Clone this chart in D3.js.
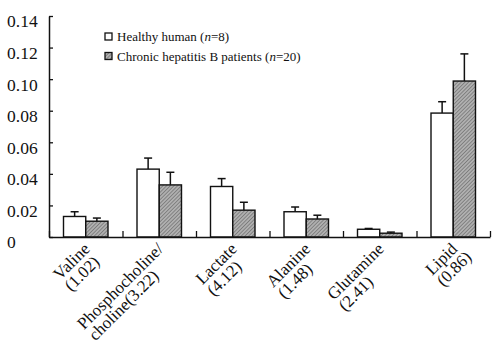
<!DOCTYPE html>
<html>
<head>
<meta charset="utf-8">
<script src="https://cdn.jsdelivr.net/npm/d3@7"></script>
<style>
  body { margin: 0; background: #fff; }
  svg text { font-family: "Liberation Serif", "Times New Roman", Times, "DejaVu Serif", serif; fill: #111; }
</style>
</head>
<body>
<div id="chart"></div>
<script>
// datos
const metabolites = ["Valine", "Phosphocholine", "Lactate", "Alanine", "Glutamine", "Lipid"]
const labelLines = [["Valine", "(1.02)"], ["Phosphocholine/", "choline(3.22)"], ["Lactate", "(4.12)"],
                    ["Alanine", "(1.48)"], ["Glutamine", "(2.41)"], ["Lipid", "(0.86)"]]
const series = ["Healthy", "HBV"]
const healthyMean = [0.013, 0.043, 0.032, 0.016, 0.0049, 0.0785]
const healthyErr  = [0.003, 0.007, 0.005, 0.003, 0.0005, 0.0072]
const hbvMean     = [0.010, 0.033, 0.017, 0.0114, 0.0024, 0.0988]
const hbvErr      = [0.002, 0.008, 0.005, 0.0024, 0.0007, 0.0172]
const yTicks = [0, 0.02, 0.04, 0.06, 0.08, 0.10, 0.12, 0.14]

const width = 492
const height = 358
const margin = { top: 16, left: 49, right: 2, bottom: 121 }
const plotW = width - margin.left - margin.right
const plotH = height - margin.top - margin.bottom
const serif = '"Liberation Serif", "Times New Roman", Times, "DejaVu Serif", serif'

const svg = d3.select("div#chart").append("svg").attr("width", width).attr("height", height)

const defs = svg.append("defs")
const pat = defs.append("pattern").attr("id", "hatch").attr("patternUnits", "userSpaceOnUse")
    .attr("width", 2.6).attr("height", 2.6).attr("patternTransform", "rotate(45)")
pat.append("rect").attr("width", 2.6).attr("height", 2.6).attr("fill", "#b0b0b0")
pat.append("line").attr("x1", 0).attr("y1", 0).attr("x2", 0).attr("y2", 2.6)
    .attr("stroke", "#5e5e5e").attr("stroke-width", 1.1)

const g = svg.append("g").attr("transform", `translate(${margin.left}, ${margin.top})`)

const x0 = d3.scaleBand().domain(metabolites).range([0, plotW])
const x1 = d3.scaleBand().domain(series).range([14.5, x0.bandwidth() - 14.5])
const y = d3.scaleLinear().domain([0, 0.14]).range([plotH, 0])
const xTickScale = d3.scaleLinear().domain([0, metabolites.length]).range([0, plotW])

const data = metabolites.map((m, i) => ({
    name: m,
    values: [
        { key: "Healthy", mean: healthyMean[i], err: healthyErr[i] },
        { key: "HBV", mean: hbvMean[i], err: hbvErr[i] }
    ]
}))

// barras
const groups = g.selectAll("g.grp").data(data).join("g").attr("class", "grp")
    .attr("transform", d => `translate(${x0(d.name)}, 0)`)

groups.selectAll("line.err").data(d => d.values).join("line").attr("class", "err")
    .attr("x1", d => x1(d.key) + x1.bandwidth() / 2).attr("x2", d => x1(d.key) + x1.bandwidth() / 2)
    .attr("y1", d => y(d.mean)).attr("y2", d => y(d.mean + d.err))
    .attr("stroke", "#111").attr("stroke-width", 1.5)
groups.selectAll("line.cap").data(d => d.values).join("line").attr("class", "cap")
    .attr("x1", d => x1(d.key) + x1.bandwidth() / 2 - 4).attr("x2", d => x1(d.key) + x1.bandwidth() / 2 + 4)
    .attr("y1", d => y(d.mean + d.err)).attr("y2", d => y(d.mean + d.err))
    .attr("stroke", "#111").attr("stroke-width", 1.5)

groups.selectAll("rect").data(d => d.values).join("rect")
    .attr("x", d => x1(d.key)).attr("width", x1.bandwidth())
    .attr("y", d => y(d.mean)).attr("height", d => plotH - y(d.mean))
    .attr("fill", d => d.key === "Healthy" ? "#fff" : "url(#hatch)")
    .attr("stroke", "#111").attr("stroke-width", 1.4)

// ejes
const yAxis = d3.axisLeft(y).tickValues(yTicks).tickSizeInner(-4).tickSizeOuter(0)
    .tickFormat(d => d === 0 ? "0" : d3.format(".2f")(d))
const yAxisGroup = g.append("g").call(yAxis).attr("font-family", serif)
yAxisGroup.select(".domain").attr("stroke", "#111").attr("stroke-width", 1.5)
yAxisGroup.selectAll(".tick line").attr("stroke", "#111").attr("stroke-width", 1.3)
yAxisGroup.selectAll(".tick text").attr("x", -42).attr("dy", "0.62em")
    .attr("text-anchor", "start").style("font-size", "17.5px").style("font-family", serif)
    .attr("fill", "#222")

const xAxis = d3.axisBottom(xTickScale).tickValues(d3.range(metabolites.length + 1))
    .tickSizeInner(-6).tickSizeOuter(0).tickFormat("")
const xAxisGroup = g.append("g").attr("transform", `translate(0, ${plotH})`).call(xAxis)
xAxisGroup.select(".domain").attr("stroke", "#111").attr("stroke-width", 1.5)
xAxisGroup.selectAll(".tick line").attr("stroke", "#111").attr("stroke-width", 1.3)

// etiquetas giradas
const labels = g.selectAll("g.xlab").data(labelLines).join("g").attr("class", "xlab")
    .attr("transform", (d, i) => `translate(${x0(metabolites[i]) + x0.bandwidth() / 2 + 5}, ${plotH + 13}) rotate(-45)`)
labels.each(function(d) {
    const lab = d3.select(this)
    const t1 = lab.append("text").text(d[0]).style("font-size", "17px").style("font-family", serif)
    const w = t1.node().getComputedTextLength()
    t1.attr("x", -w)
    lab.append("text").text(d[1]).style("font-size", "17px").style("font-family", serif)
        .attr("x", -w).attr("y", 16)
})

// leyenda
const legend = svg.append("g").attr("transform", "translate(105, 33)")
const legendItems = [
    { fill: "#fff", label: "Healthy human (", n: "n", rest: "=8)" },
    { fill: "url(#hatch)", label: "Chronic hepatitis B patients (", n: "n", rest: "=20)" }
]
legendItems.forEach((it, i) => {
    const row = legend.append("g").attr("transform", `translate(0, ${i * 19.5})`)
    row.append("rect").attr("width", 7).attr("height", 7).attr("fill", it.fill)
        .attr("stroke", "#111").attr("stroke-width", 1.3)
    const t = row.append("text").attr("x", 12).attr("y", 8).style("font-size", "13px").style("font-family", serif)
    t.append("tspan").text(it.label)
    t.append("tspan").text(it.n).style("font-style", "italic")
    t.append("tspan").text(it.rest)
})
</script>
</body>
</html>
